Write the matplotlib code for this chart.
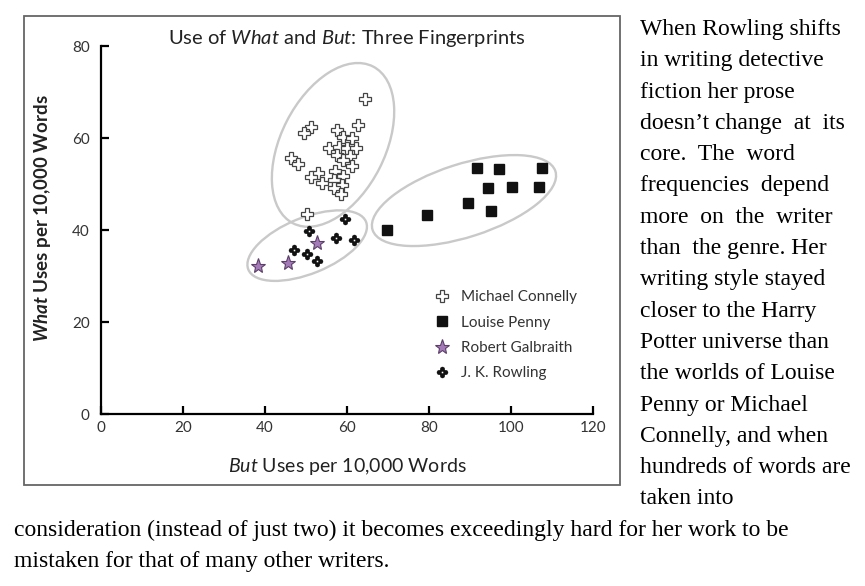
import matplotlib
matplotlib.use('Agg')
import matplotlib.pyplot as plt
from matplotlib.patches import Ellipse, Rectangle
from matplotlib.path import Path
from matplotlib.transforms import ScaledTranslation

plt.rcParams['font.family'] = ['Lato', 'DejaVu Sans']
plt.rcParams['mathtext.fontset'] = 'custom'
plt.rcParams['mathtext.rm'] = 'Lato'
plt.rcParams['mathtext.it'] = 'Lato:italic'
plt.rcParams['mathtext.bf'] = 'Lato:bold'
plt.rcParams['mathtext.bfit'] = 'Lato:italic:bold'

# --- data (uses per 10,000 words) ---
connelly_but = [64.4, 62.6, 51.2, 49.5, 57.5, 59.1, 61.1, 55.7, 58.1, 60.1, 62.1, 57.5, 60.7, 59.1,
                61.1, 46.3, 48.1, 57.1, 59.1, 53.0, 51.2, 53.8, 56.8, 58.7, 56.8, 58.5, 50.2]
connelly_what = [68.4, 62.8, 62.5, 61.0, 61.7, 60.2, 59.9, 57.8, 58.1, 57.8, 57.8, 56.3, 56.1, 55.2,
                 53.9, 55.6, 54.3, 52.9, 51.7, 52.5, 51.6, 50.2, 50.9, 49.8, 49.1, 47.8, 43.5]

penny_but = [91.6, 97.0, 107.6, 94.4, 100.1, 106.8, 89.5, 95.1, 79.4, 69.7]
penny_what = [53.5, 53.3, 53.4, 49.2, 49.3, 49.3, 45.8, 44.2, 43.3, 40.1]

galbraith_but = [52.6, 45.7, 38.4]
galbraith_what = [37.1, 32.8, 32.2]

rowling_but = [59.5, 50.7, 57.3, 61.8, 47.2, 50.2, 52.8]
rowling_what = [42.3, 39.8, 38.2, 37.8, 35.7, 34.7, 33.3]

x_ticks = [0, 20, 40, 60, 80, 100, 120]
y_ticks = [0, 20, 40, 60, 80]

# group rings: centre (data), width/height in pixels, angle in degrees
rings = [
    (56.6, 58.5, 176, 104, 63),
    (88.5, 46.4, 192, 73, 17.8),
    (50.3, 36.6, 127, 56, 22.1),
]

side_text = [
    "When Rowling shifts",
    "in writing detective",
    "fiction her prose",
    "doesn\u2019t change  at  its",
    "core.  The  word",
    "frequencies  depend",
    "more  on  the  writer",
    "than  the genre. Her",
    "writing style stayed",
    "closer to the Harry",
    "Potter universe than",
    "the worlds of Louise",
    "Penny or Michael",
    "Connelly, and when",
    "hundreds of words are",
    "taken into",
]
bottom_text = [
    "consideration (instead of just two) it becomes exceedingly hard for her work to be",
    "mistaken for that of many other writers.",
]

# four-dot marker for Rowling
lobes = [Path.circle((dx, dy), 0.38) for dx, dy in [(0, 0.52), (0, -0.52), (0.52, 0), (-0.52, 0)]]
clover = Path.make_compound_path(*lobes)

fig = plt.figure(figsize=(8.65, 5.86), dpi=100)
ax = fig.add_axes([0.1164, 0.2935, 0.5695, 0.628])

ax.plot(connelly_but, connelly_what, linestyle='none', marker='P', ms=8.5,
        mfc='white', mec='#444444', mew=0.9, label='Michael Connelly')
ax.plot(penny_but, penny_what, linestyle='none', marker='s', ms=6.5,
        mfc='#111111', mec='#111111', label='Louise Penny')
ax.plot(galbraith_but, galbraith_what, linestyle='none', marker='*', ms=11,
        mfc='#a57ab8', mec='#5b3f68', mew=0.8, label='Robert Galbraith')
ax.plot(rowling_but, rowling_what, linestyle='none', marker=clover, ms=8,
        mfc='#111111', mec='#111111', mew=0.2, label='J. K. Rowling')

for cx, cy, w, h, ang in rings:
    tr = fig.dpi_scale_trans + ScaledTranslation(cx, cy, ax.transData)
    ax.add_patch(Ellipse((0, 0), w / 100, h / 100, angle=ang, transform=tr,
                         fill=False, ec='#c9c9c9', lw=1.7))

ax.set_xlim(0, 120)
ax.set_ylim(0, 80)
ax.set_xticks(x_ticks)
ax.set_yticks(y_ticks)
for s in ['top', 'right']:
    ax.spines[s].set_visible(False)
for s in ['left', 'bottom']:
    ax.spines[s].set_linewidth(1.6)
ax.tick_params(direction='in', length=6, width=1.6, labelsize=11, labelcolor='#333333')
ax.tick_params(axis='y', pad=8)
ax.tick_params(axis='x', pad=5)

ax.set_xlabel(r'$\mathit{But}$ Uses per 10,000 Words', fontsize=14, color='#222222', labelpad=15)
ax.set_ylabel(r'$\mathbfit{What}$ Uses per 10,000 Words', fontsize=13.5, fontweight='bold',
              color='#222222')
ax.yaxis.set_label_coords(-0.097, 0.533)
ax.set_title(r'Use of $\mathit{What}$ and $\mathit{But}$: Three Fingerprints', fontsize=14.5,
             color='#222222', y=1.0, pad=1.5)

leg = ax.legend(loc='upper left', bbox_to_anchor=(0.661, 0.357), frameon=False, fontsize=11,
                handlelength=1.0, handletextpad=0.75, labelspacing=0.74, borderpad=0)
for t in leg.get_texts():
    t.set_color('#333333')

# frame around the chart
fig.patches.append(Rectangle((0.0277, 0.1724), 0.689, 0.8003, transform=fig.transFigure,
                             fill=False, ec='#666666', lw=1.3))

# surrounding prose
line_h = 31.3
for i, line in enumerate(side_text):
    fig.text(640 / 865, 1 - (35 + i * line_h) / 586, line, family='Liberation Serif',
             fontsize=17, va='baseline', ha='left', color='black')
for j, line in enumerate(bottom_text):
    fig.text(14 / 865, 1 - (35 + (16 + j) * line_h) / 586, line, family='Liberation Serif',
             fontsize=17, va='baseline', ha='left', color='black')

fig.savefig('out.png', dpi=100)
